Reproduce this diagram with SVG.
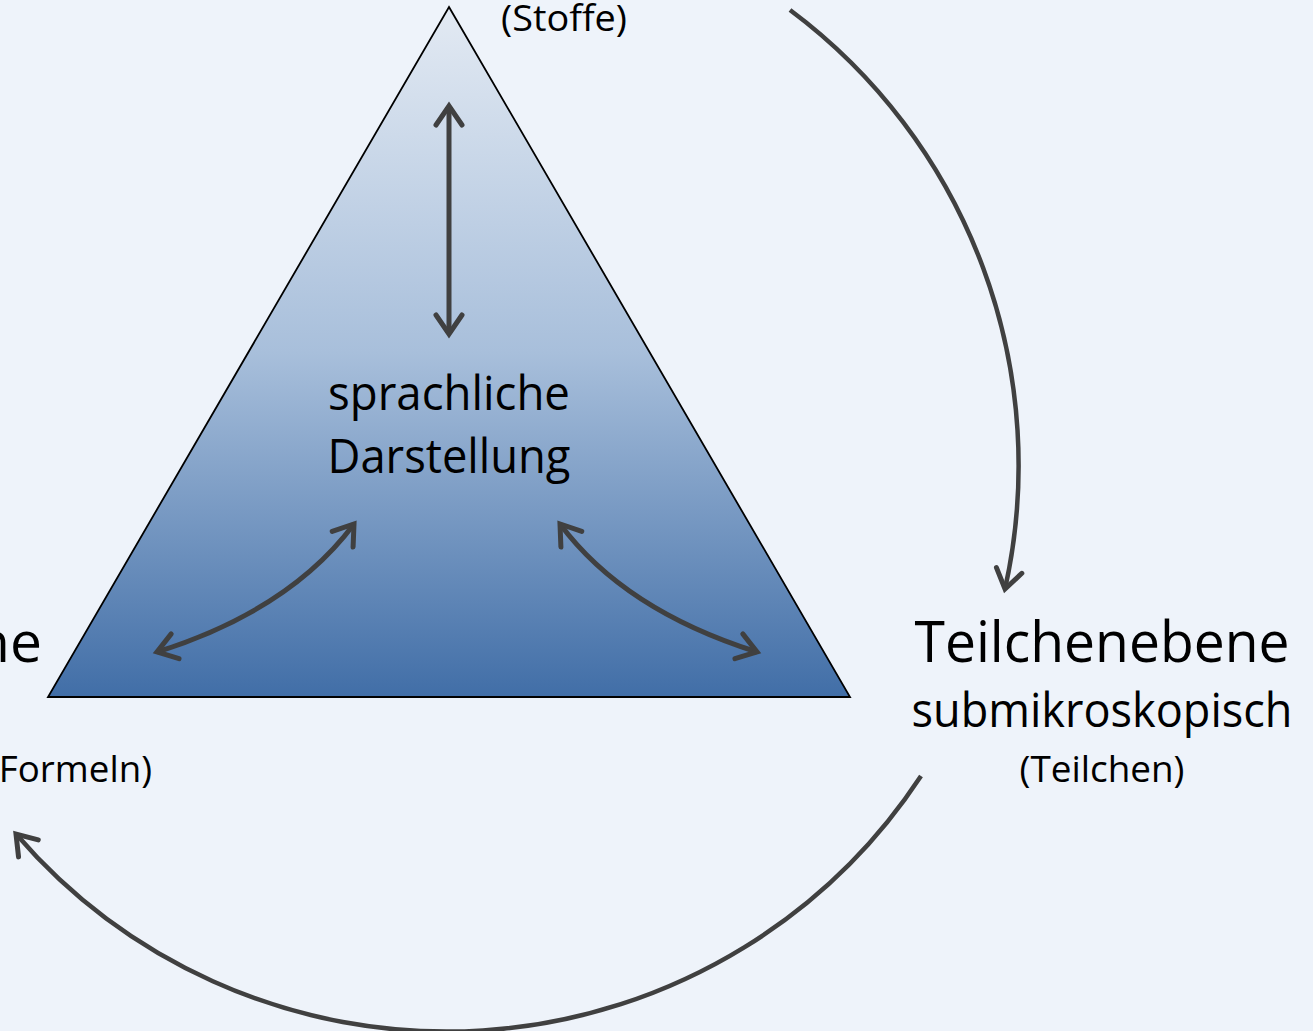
<svg xmlns="http://www.w3.org/2000/svg" width="1313" height="1031" viewBox="0 0 1313 1031">
<style>
.t{font-family:"Open Sans","Noto Sans","Liberation Sans",sans-serif;fill:#000}
.c{text-anchor:middle}
.a{fill:none;stroke:#404040;stroke-width:5}
.b{fill:none;stroke:#404040;stroke-width:4.5}
</style>
<defs>
<linearGradient id="g" gradientUnits="userSpaceOnUse" x1="0" y1="7" x2="0" y2="697">
<stop offset="0" stop-color="#e3eaf3"/>
<stop offset="0.5" stop-color="#a8bfdb"/>
<stop offset="1" stop-color="#416ea7"/>
</linearGradient>
<marker id="h" markerUnits="userSpaceOnUse" viewBox="-25 -16 30 32" markerWidth="30" markerHeight="32" refX="0" refY="0" orient="auto-start-reverse" overflow="visible">
<path d="M-19,-13 L0,0 L-19,13" fill="none" stroke="#404040" stroke-width="5" stroke-linecap="round" stroke-linejoin="miter"/>
</marker>
</defs>
<rect width="1313" height="1031" fill="#eef3fa"/>
<g id="triangle">
<polygon points="449,7 850,697 48,697" fill="url(#g)" stroke="#000" stroke-width="1.8" stroke-linejoin="miter"/>
</g>
<g id="center">
<text class="t c" x="449" y="410" font-size="47" textLength="242" lengthAdjust="spacingAndGlyphs">sprachliche</text>
<text class="t c" x="449" y="473" font-size="47" textLength="243" lengthAdjust="spacingAndGlyphs">Darstellung</text>
</g>
<g id="top">
<text class="t c" x="564" y="31" font-size="37" textLength="126" lengthAdjust="spacingAndGlyphs">(Stoffe)</text>
</g>
<g id="right">
<text class="t c" x="1102" y="662" font-size="57" textLength="375" lengthAdjust="spacingAndGlyphs">Teilchenebene</text>
<text class="t c" x="1102" y="727" font-size="47" textLength="381" lengthAdjust="spacingAndGlyphs">submikroskopisch</text>
<text class="t c" x="1102" y="782" font-size="37" textLength="165" lengthAdjust="spacingAndGlyphs">(Teilchen)</text>
</g>
<g id="left">
<text class="t" x="42" y="662" font-size="57" text-anchor="end">ne</text>
<text class="t" x="152" y="782" font-size="37" text-anchor="end" textLength="164" lengthAdjust="spacingAndGlyphs">(Formeln)</text>
</g>
<g id="connectors">
<path class="a" d="M449,106 L449,334" marker-start="url(#h)" marker-end="url(#h)"/>
<path class="a" d="M157,652 Q290,610 354,524" marker-start="url(#h)" marker-end="url(#h)"/>
<path class="a" d="M757,652 Q624,610 560,524" marker-start="url(#h)" marker-end="url(#h)"/>
<path class="b" d="M790,10 A568,568 0 0,1 1005,589" marker-end="url(#h)"/>
<path class="b" d="M921,776 A568,568 0 0,1 16,834" marker-end="url(#h)"/>
</g>
</svg>
